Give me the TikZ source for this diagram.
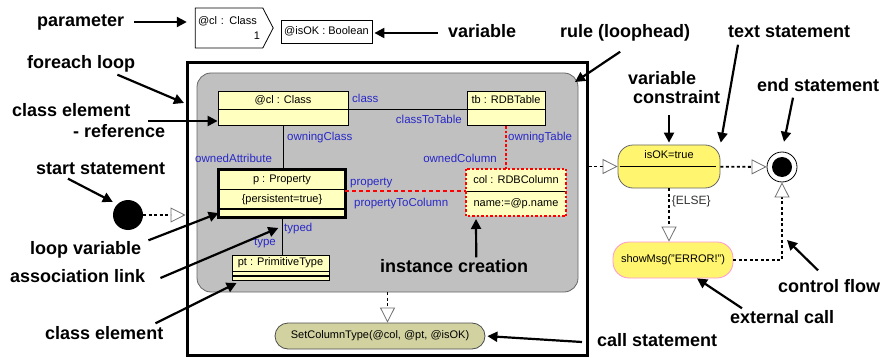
\documentclass[tikz,border=0pt]{standalone}
\usepackage{fontspec}
\setmainfont{Liberation Sans}
\usetikzlibrary{positioning, shapes, arrows.meta}

\definecolor{clsfill}{RGB}{255,255,192}
\definecolor{rolecol}{RGB}{40,40,200}
\definecolor{rulefill}{RGB}{192,192,192}
\definecolor{stfill}{RGB}{255,245,110}
\definecolor{callfill}{RGB}{210,210,160}
\definecolor{errline}{RGB}{255,150,210}
\definecolor{flowgray}{RGB}{110,110,110}

\begin{document}
\begin{tikzpicture}[x = 1pt, y = -1pt,
  note/.style = {anchor = west, inner sep = 0pt, font = \bfseries\fontsize{18}{21}\selectfont},
  noteline/.style = {note, text height = 13pt, text depth = 4pt},
  cls/.style = {draw, line width = 0.8pt, fill = clsfill, inner sep = 0pt, font = \fontsize{11}{12}\selectfont},
  role/.style = {anchor = west, inner sep = 0pt, text = rolecol, font = \fontsize{11.5}{13}\selectfont},
  param/.style = {signal, signal to = east, signal pointer angle = 125, draw, line width = 0.8pt, minimum width = 78pt, minimum height = 40pt, text width = 62pt, align = left, inner sep = 1pt, font = \fontsize{11}{13}\selectfont},
  state/.style = {draw, line width = 0.8pt, rounded corners = 15pt, fill = stfill, inner sep = 0pt, font = \fontsize{11}{12}\selectfont},
  pointer/.style = {line width = 2.2pt, -{Triangle[length = 10pt, width = 10pt]}},
  flow/.style = {line width = 1.8pt, dash pattern = on 3pt off 2.5pt, -{Triangle[open, color = flowgray, length = 15pt, width = 15pt, line width = 0.8pt]}},
  create/.style = {red, line width = 2pt, dash pattern = on 2.5pt off 2pt}]
  \useasboundingbox (0, 0) rectangle (882, 358);

  % parameter and variable
  \node [param] (param) at (229, 28) {@cl : Class\\[2pt]\hspace*{\fill}1};
  \node [cls, fill = white, minimum width = 91pt, minimum height = 23pt] (isok) at (326.5, 31.5) {@isOK : Boolean};

  % loop and rule
  \node [draw, line width = 3pt, minimum width = 400pt, minimum height = 292pt] (loop) at (387, 209) {};
  \node [draw = black!60, line width = 0.8pt, fill = rulefill, rounded corners = 14pt, minimum width = 381pt, minimum height = 219pt] (rule) at (387.5, 182.5) {};

  % class elements
  \node [cls, minimum width = 130pt, minimum height = 18pt] (cl) at (283, 100) {@cl : Class};
  \node [cls, minimum width = 130pt, minimum height = 16pt, below = 0pt of cl] (cl body) {};
  \node [cls, minimum width = 78pt, minimum height = 18pt] (tb) at (506, 100) {tb : RDBTable};
  \node [cls, minimum width = 78pt, minimum height = 16pt, below = 0pt of tb] (tb body) {};

  \node [cls, minimum width = 126pt, minimum height = 19pt] (prop) at (282, 179.5) {p : Property};
  \node [cls, minimum width = 126pt, minimum height = 19pt, below = 0pt of prop] (prop attr) {\{persistent=true\}};
  \node [cls, minimum width = 126pt, minimum height = 7pt, below = 0pt of prop attr] (prop ops) {};
  \draw [line width = 3pt] (prop.north west) rectangle (prop ops.south east);

  \node [cls, draw = none, minimum width = 100pt, minimum height = 22pt] (col) at (516, 180) {col : RDBColumn};
  \node [cls, draw = none, minimum width = 100pt, minimum height = 24pt, below = 0pt of col] (col attr) {name:=@p.name};
  \draw [line width = 1.5pt] (col.south west) -- (col.south east);
  \draw [create] (col.north west) rectangle (col attr.south east);

  \node [cls, minimum width = 97pt, minimum height = 16pt] (pt) at (280.5, 263) {pt : PrimitiveType};
  \node [cls, minimum width = 97pt, minimum height = 4pt, below = 0pt of pt] (pt attr) {};
  \node [cls, minimum width = 97pt, minimum height = 4pt, below = 0pt of pt attr] (pt ops) {};

  % links
  \draw [line width = 0.8pt] (cl.south east) -- (tb.south west);
  \draw [line width = 0.8pt] (cl body.south) -- (cl body.south |- prop.north);
  \draw [create] (tb body.south) -- (tb body.south |- col.north);
  \draw [create, dash pattern = on 4pt off 3pt] (prop attr.east |- col.south) -- (col.south west);
  \draw [line width = 0.8pt] (prop ops.south) -- (prop ops.south |- pt.north);
  \path (prop ops.south) -- (prop ops.south |- pt.north) coordinate [pos = 0.25] (typed link);

  \node [role] (r class) at (352, 98) {class};
  \node [role, anchor = east] (r classtotable) at (462, 119) {classToTable};
  \node [role] (r owningclass) at (287, 138) {owningClass};
  \node [role] (r ownedattr) at (195, 158) {ownedAttribute};
  \node [role] (r owningtable) at (508, 138) {owningTable};
  \node [role, anchor = east] (r ownedcolumn) at (497, 158) {ownedColumn};
  \node [role] (r property) at (350, 183) {property};
  \node [role] (r proptocol) at (354, 204) {propertyToColumn};
  \node [role] (r typed) at (284, 229) {typed};
  \node [role, anchor = east] (r type) at (276, 243) {type};

  % statements
  \node [circle, fill, minimum size = 30pt, inner sep = 0pt] (start) at (128, 215) {};
  \node [state, draw = black!60, minimum width = 102pt, minimum height = 43pt, text height = 6pt, text depth = 21pt] (check) at (669, 166.5) {isOK=true};
  \draw [line width = 0.8pt] ([xshift = 2pt]check.west) -- ([xshift = -4pt]check.east);
  \node [circle, draw, line width = 0.8pt, fill = white, minimum size = 30pt, inner sep = 0pt,
    path picture = {\fill [black] (path picture bounding box.center) circle (10pt);}] (end) at (782, 167) {};
  \node [state, draw = errline, minimum width = 120pt, minimum height = 36pt, rounded corners = 16pt] (error) at (673, 260) {showMsg("ERROR!")};
  \node [draw = black!70, line width = 0.8pt, fill = callfill, rounded corners = 13pt, minimum width = 210pt, minimum height = 26pt, inner sep = 0pt, font = \fontsize{11}{12}\selectfont] (call) at (380, 336) {SetColumnType(@col, @pt, @isOK)};

  % control flow
  \draw [flow] (start) -- (start -| loop.west);
  \draw [flow] (loop.east |- check.west) -- (check.west);
  \draw [flow] (check) -- (end);
  \draw [flow] (check.south) -- node [near start, right, inner sep = 2pt, text = black!80, font = \fontsize{12}{13}\selectfont] (else) {\{ELSE\}} (check.south |- error.north);
  \draw [flow] (error.east) -| (end.south);
  \draw [flow] (rule.south) -- (rule.south |- call.north);

  % annotations
  \node [noteline] (l param) at (37, 22) {parameter};
  \node [noteline] (l var) at (448, 33) {variable};
  \node [noteline] (l rule) at (560, 33) {rule (loophead)};
  \node [noteline] (l text) at (728, 33) {text statement};
  \node [noteline] (l loop) at (27, 64) {foreach loop};
  \node [note, align = left] (l ref) at (12, 121) {class element\\\hspace*{61pt}- reference};
  \node [note, align = left] (l vc) at (628, 88) {variable\\[-2pt]\hspace*{5pt}constraint};
  \node [noteline] (l end) at (757, 87) {end statement};
  \node [noteline] (l start) at (36, 170) {start statement};
  \node [noteline] (l loopvar) at (30, 250) {loop variable};
  \node [noteline] (l assoc) at (10, 278) {association link};
  \node [noteline] (l cls) at (45, 335) {class element};
  \node [noteline] (l inst) at (380, 268) {instance creation};
  \node [noteline] (l call) at (597, 342) {call statement};
  \node [noteline] (l ext) at (730, 319) {external call};
  \node [noteline] (l flow) at (778, 288) {control flow};

  \coordinate (loop tip) at (184, 103);
  \coordinate (rule tip) at (575, 82);
  \coordinate (inst tip) at (476, 219);
  \coordinate (flow tip) at (787, 240);

  \draw [pointer, shorten > = 8pt] ([xshift = 10pt]l param.east) -- (l param.east -| param.west);
  \draw [pointer, shorten > = 2pt] ([xshift = -10pt]l var.west) -- (l var.west -| isok.east);
  \draw [pointer] ([shift = {(-5, 10)}]l rule.south) -- (rule tip);
  \draw [pointer, shorten > = 2pt] ([shift = {(10, 3)}]l text.south west) -- (check.north east);
  \draw [pointer] ([shift = {(-18, 2)}]l loop.south east) -- (loop tip);
  \draw [pointer] ([xshift = -17pt]l ref.east) -- (l ref.east -| cl body.west);
  \draw [pointer, shorten < = 11pt, shorten > = 2pt] (l vc.south -| check.north) -- (check.north);
  \draw [pointer, shorten > = 10pt] ([shift = {(36, 2)}]l end.south west) -- (end.north);
  \draw [pointer, shorten > = 5pt] ([shift = {(32, 0)}]l start.south west) -- (start.north west);
  \draw [pointer] ([shift = {(7, -1)}]l loopvar.north east) -- (prop ops.west);
  \draw [pointer, shorten > = 4pt] ([xshift = 15pt]l assoc.east) -- (typed link);
  \draw [pointer] ([shift = {(-8, -3)}]l cls.north east) -- ([shift = {(5, 2)}]pt ops.south west);
  \draw [pointer] ([shift = {(22, -2)}]l inst.north) -- (inst tip);
  \draw [pointer, shorten > = 2pt] ([xshift = -15pt]l call.west) -- (call.east);
  \draw [pointer] ([shift = {(12, -2)}]l ext.north west) -- ([xshift = 24pt]error.south);
  \draw [pointer] ([shift = {(40, -9)}]l flow.north west) -- (flow tip);
\end{tikzpicture}
\end{document}
